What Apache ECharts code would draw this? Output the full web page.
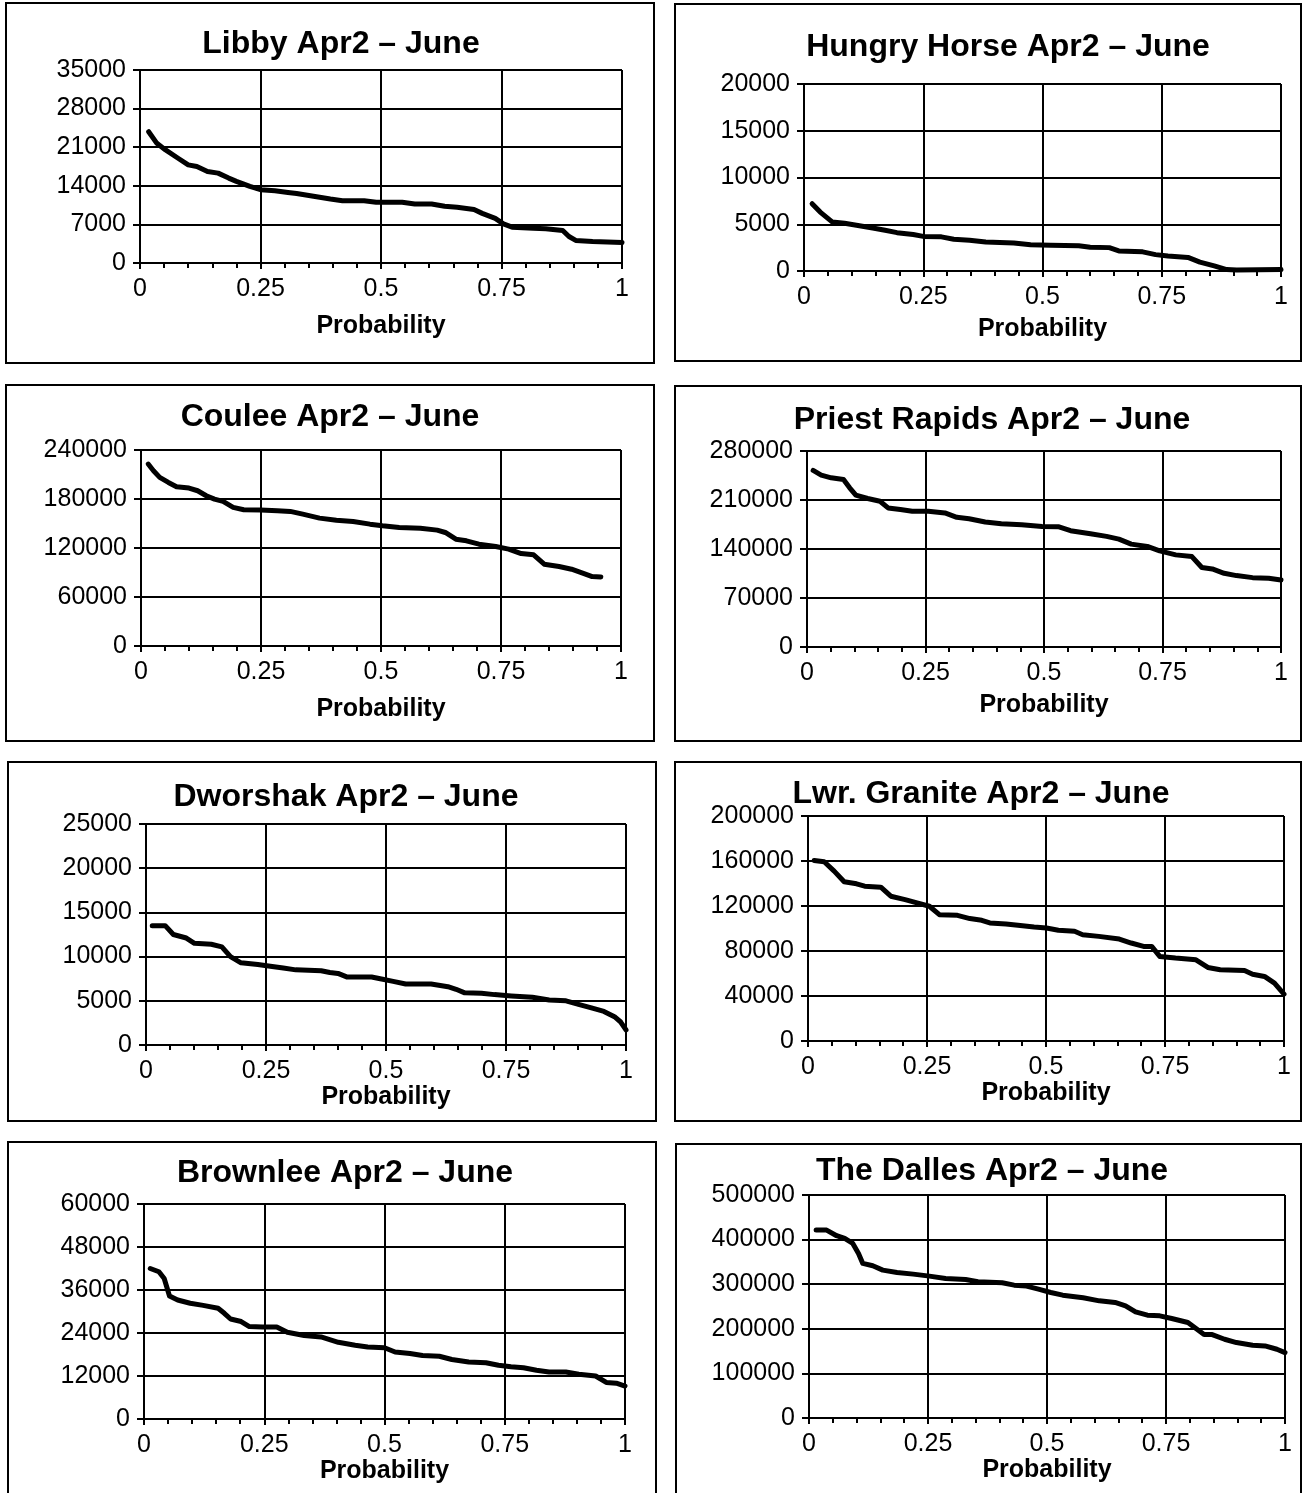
<!DOCTYPE html>
<html>
<head>
<meta charset="utf-8">
<script src="https://cdn.jsdelivr.net/npm/echarts@6/dist/echarts.min.js"></script>
<style>
  html, body { margin: 0; padding: 0; background: #fff; }
  #main { width: 1302px; height: 1493px; }
</style>
</head>
<body>
<div id="main"></div>
<script>
// probability (x) and flow (y)
const libbyP = [0.018, 0.035, 0.053, 0.079, 0.1, 0.118, 0.14, 0.162, 0.184, 0.2, 0.228, 0.25, 0.28, 0.307, 0.325, 0.36, 0.395, 0.42, 0.465, 0.49, 0.544, 0.57, 0.605, 0.632, 0.658, 0.693, 0.71, 0.737, 0.754, 0.772, 0.816, 0.842, 0.877, 0.89, 0.904, 0.939, 1.0]
const libbyQ = [23800, 21700, 20500, 19000, 17800, 17500, 16600, 16300, 15400, 14800, 13900, 13300, 13100, 12800, 12600, 12100, 11600, 11300, 11300, 11000, 11000, 10700, 10700, 10300, 10100, 9700, 9000, 8100, 7100, 6500, 6300, 6200, 5900, 4800, 4100, 3900, 3700]

const hungryP = [0.017, 0.034, 0.059, 0.085, 0.11, 0.144, 0.17, 0.195, 0.229, 0.25, 0.288, 0.314, 0.347, 0.381, 0.44, 0.475, 0.517, 0.576, 0.6, 0.64, 0.66, 0.71, 0.737, 0.763, 0.805, 0.83, 0.86, 0.886, 0.907, 1.0]
const hungryQ = [7200, 6300, 5250, 5100, 4900, 4600, 4350, 4100, 3900, 3700, 3650, 3400, 3300, 3100, 3000, 2800, 2750, 2700, 2550, 2500, 2150, 2050, 1750, 1600, 1450, 950, 550, 150, 100, 150]

const couleeP = [0.015, 0.026, 0.039, 0.057, 0.074, 0.1, 0.118, 0.136, 0.153, 0.171, 0.192, 0.214, 0.249, 0.284, 0.311, 0.337, 0.372, 0.407, 0.442, 0.477, 0.503, 0.538, 0.582, 0.617, 0.634, 0.656, 0.678, 0.704, 0.739, 0.766, 0.792, 0.818, 0.84, 0.871, 0.897, 0.923, 0.94, 0.958]
const couleeQ = [222800, 214600, 206500, 200300, 195000, 193400, 190100, 184000, 179900, 177000, 169700, 166800, 166400, 165600, 164800, 161500, 156600, 154100, 152500, 149200, 147200, 145100, 144300, 141900, 139000, 130800, 128800, 124700, 121800, 118600, 113200, 111600, 100200, 97300, 94000, 88700, 85000, 84600]

const priestP = [0.013, 0.03, 0.051, 0.077, 0.09, 0.103, 0.128, 0.154, 0.171, 0.197, 0.222, 0.256, 0.291, 0.316, 0.342, 0.376, 0.41, 0.453, 0.496, 0.53, 0.556, 0.598, 0.632, 0.658, 0.684, 0.718, 0.744, 0.778, 0.812, 0.833, 0.855, 0.88, 0.906, 0.94, 0.974, 1.0]
const priestQ = [252300, 245600, 241700, 239300, 227400, 216900, 212100, 208200, 198700, 196300, 193900, 193900, 191500, 185300, 183300, 178600, 176200, 174700, 172300, 171900, 166100, 161800, 158000, 154100, 147000, 143600, 137400, 131600, 129200, 113500, 111500, 105300, 102000, 99100, 98100, 95700]

const dworshakP = [0.013, 0.04, 0.057, 0.084, 0.101, 0.136, 0.158, 0.176, 0.198, 0.233, 0.259, 0.286, 0.312, 0.365, 0.383, 0.4, 0.418, 0.47, 0.488, 0.515, 0.541, 0.594, 0.629, 0.646, 0.664, 0.699, 0.726, 0.761, 0.805, 0.84, 0.875, 0.901, 0.928, 0.954, 0.976, 0.989, 1.0]
const dworshakQ = [13500, 13500, 12500, 12100, 11500, 11400, 11100, 10000, 9300, 9100, 8900, 8700, 8500, 8400, 8200, 8100, 7700, 7700, 7500, 7200, 6900, 6900, 6600, 6300, 5900, 5850, 5700, 5550, 5400, 5100, 5000, 4600, 4200, 3800, 3200, 2600, 1700]

const graniteP = [0.013, 0.034, 0.055, 0.076, 0.102, 0.119, 0.153, 0.174, 0.204, 0.229, 0.255, 0.276, 0.314, 0.34, 0.365, 0.382, 0.416, 0.441, 0.475, 0.501, 0.526, 0.56, 0.577, 0.611, 0.654, 0.679, 0.705, 0.722, 0.739, 0.772, 0.815, 0.84, 0.866, 0.917, 0.934, 0.959, 0.98, 1.0]
const graniteQ = [160500, 159300, 151000, 141500, 139700, 137600, 136700, 128700, 125700, 122700, 119800, 112300, 111700, 108800, 107300, 104900, 104000, 102800, 101300, 100400, 98400, 97500, 94500, 93000, 90600, 87100, 84100, 84100, 75200, 73700, 72200, 65400, 63300, 62700, 59400, 57400, 51400, 41600]

const brownleeP = [0.013, 0.031, 0.042, 0.053, 0.07, 0.096, 0.123, 0.154, 0.167, 0.18, 0.202, 0.219, 0.246, 0.276, 0.298, 0.333, 0.368, 0.404, 0.439, 0.465, 0.5, 0.522, 0.553, 0.579, 0.614, 0.64, 0.675, 0.711, 0.737, 0.763, 0.789, 0.816, 0.842, 0.877, 0.904, 0.939, 0.961, 0.982, 1.0]
const brownleeQ = [42000, 41100, 39200, 34300, 33200, 32300, 31700, 30900, 29500, 27900, 27200, 25800, 25700, 25700, 24200, 23300, 22900, 21400, 20600, 20100, 19900, 18700, 18300, 17700, 17500, 16600, 15900, 15700, 15000, 14600, 14300, 13600, 13100, 13100, 12500, 12000, 10200, 10000, 9200]

const dallesP = [0.015, 0.037, 0.058, 0.075, 0.092, 0.104, 0.113, 0.134, 0.155, 0.185, 0.219, 0.253, 0.287, 0.329, 0.355, 0.406, 0.431, 0.457, 0.482, 0.508, 0.533, 0.576, 0.61, 0.643, 0.665, 0.686, 0.711, 0.737, 0.762, 0.796, 0.813, 0.83, 0.847, 0.873, 0.898, 0.932, 0.958, 0.983, 1.0]
const dallesQ = [421400, 421400, 408700, 402700, 391500, 369000, 346600, 341300, 331600, 326300, 322600, 318100, 312900, 310600, 305400, 303100, 297900, 295700, 288900, 281400, 275400, 269500, 262700, 259000, 251500, 238000, 230500, 229000, 223100, 214100, 200600, 187100, 187100, 176600, 169200, 163200, 161700, 154200, 146700]

const titles = ['Libby Apr2 – June', 'Hungry Horse Apr2 – June', 'Coulee Apr2 – June', 'Priest Rapids Apr2 – June',
  'Dworshak Apr2 – June', 'Lwr. Granite Apr2 – June', 'Brownlee Apr2 – June', 'The Dalles Apr2 – June']
const yMax = [35000, 20000, 240000, 280000, 25000, 200000, 60000, 500000]
const yStep = [7000, 5000, 60000, 70000, 5000, 40000, 12000, 100000]
const xTicks = [0, 0.25, 0.5, 0.75, 1]
const xName = 'Probability'

const seriesP = [libbyP, hungryP, couleeP, priestP, dworshakP, graniteP, brownleeP, dallesP]
const seriesQ = [libbyQ, hungryQ, couleeQ, priestQ, dworshakQ, graniteQ, brownleeQ, dallesQ]

// layout of each panel: frame box, plot rect, title centre, axis name centre
const layout = [
  { box: [6, 3, 654, 363], plot: [140, 70, 622, 263], tx: 341, ty: 44, ny: 328 },
  { box: [675, 4, 1301, 361], plot: [804, 84, 1281, 271], tx: 1008, ty: 47, ny: 331 },
  { box: [6, 385, 654, 741], plot: [141, 450, 621, 646], tx: 330, ty: 417, ny: 711 },
  { box: [675, 386, 1301, 741], plot: [807, 451, 1281, 647], tx: 992, ty: 420, ny: 707 },
  { box: [8, 762, 656, 1121], plot: [146, 824, 626, 1045], tx: 346, ty: 797, ny: 1098 },
  { box: [675, 762, 1301, 1121], plot: [808, 816, 1284, 1041], tx: 981, ty: 794, ny: 1095 },
  { box: [8, 1142, 656, 1510], plot: [144, 1204, 625, 1419], tx: 345, ty: 1173, ny: 1471 },
  { box: [676, 1144, 1301, 1510], plot: [809, 1195, 1285, 1418], tx: 992, ty: 1171, ny: 1472 },
]

const FONT = '"Liberation Sans", Arial, Helvetica, sans-serif'

const chart = echarts.init(document.getElementById('main'))

const title = []
const grid = []
const xAxis = []
const yAxis = []
const series = []
const graphic = []

layout.forEach((l, i) => {
  const [pl, pt, pr, pb] = l.plot
  title.push({
    text: titles[i],
    left: l.tx,
    top: l.ty,
    padding: 0,
    textAlign: 'center',
    textVerticalAlign: 'middle',
    textStyle: { fontFamily: FONT, fontSize: 32, fontWeight: 'bold', color: '#000' },
  })
  grid.push({ left: pl, top: pt, width: pr - pl, height: pb - pt, containLabel: false })
  xAxis.push({
    gridIndex: i,
    type: 'value',
    min: xTicks[0],
    max: xTicks[xTicks.length - 1],
    interval: 0.25,
    name: xName,
    nameLocation: 'middle',
    nameGap: l.ny - pb - 14,
    nameTextStyle: { fontFamily: FONT, fontSize: 25, fontWeight: 'bold', color: '#000' },
    axisLine: { show: true, onZero: false, lineStyle: { color: '#000', width: 2 } },
    axisTick: { show: true, inside: false, length: 6, lineStyle: { color: '#000', width: 2 } },
    minorTick: { show: true, splitNumber: 5, length: 5, lineStyle: { color: '#000', width: 2 } },
    splitLine: { show: true, lineStyle: { color: '#000', width: 2 } },
    axisLabel: { fontFamily: FONT, fontSize: 25, color: '#000', margin: 14 },
  })
  yAxis.push({
    gridIndex: i,
    type: 'value',
    min: 0,
    max: yMax[i],
    interval: yStep[i],
    axisLine: { show: true, lineStyle: { color: '#000', width: 2 } },
    axisTick: { show: true, inside: false, length: 7, lineStyle: { color: '#000', width: 2 } },
    splitLine: { show: true, lineStyle: { color: '#000', width: 2 } },
    axisLabel: { fontFamily: FONT, fontSize: 25, color: '#000', margin: 14, formatter: (v) => String(v) },
  })
  series.push({
    type: 'line',
    xAxisIndex: i,
    yAxisIndex: i,
    showSymbol: false,
    symbol: 'none',
    animation: false,
    lineStyle: { color: '#000', width: 5, cap: 'round', join: 'round' },
    data: seriesP[i].map((p, k) => [p, seriesQ[i][k]]),
  })
  // frame round the whole panel
  const [bl, bt, br, bb] = l.box
  graphic.push({
    type: 'rect',
    silent: true,
    shape: { x: bl, y: bt, width: br - bl, height: bb - bt },
    style: { fill: 'none', stroke: '#000', lineWidth: 2 },
  })
})

chart.setOption({
  backgroundColor: '#fff',
  animation: false,
  title,
  grid,
  xAxis,
  yAxis,
  series,
  graphic,
})
</script>
</body>
</html>
